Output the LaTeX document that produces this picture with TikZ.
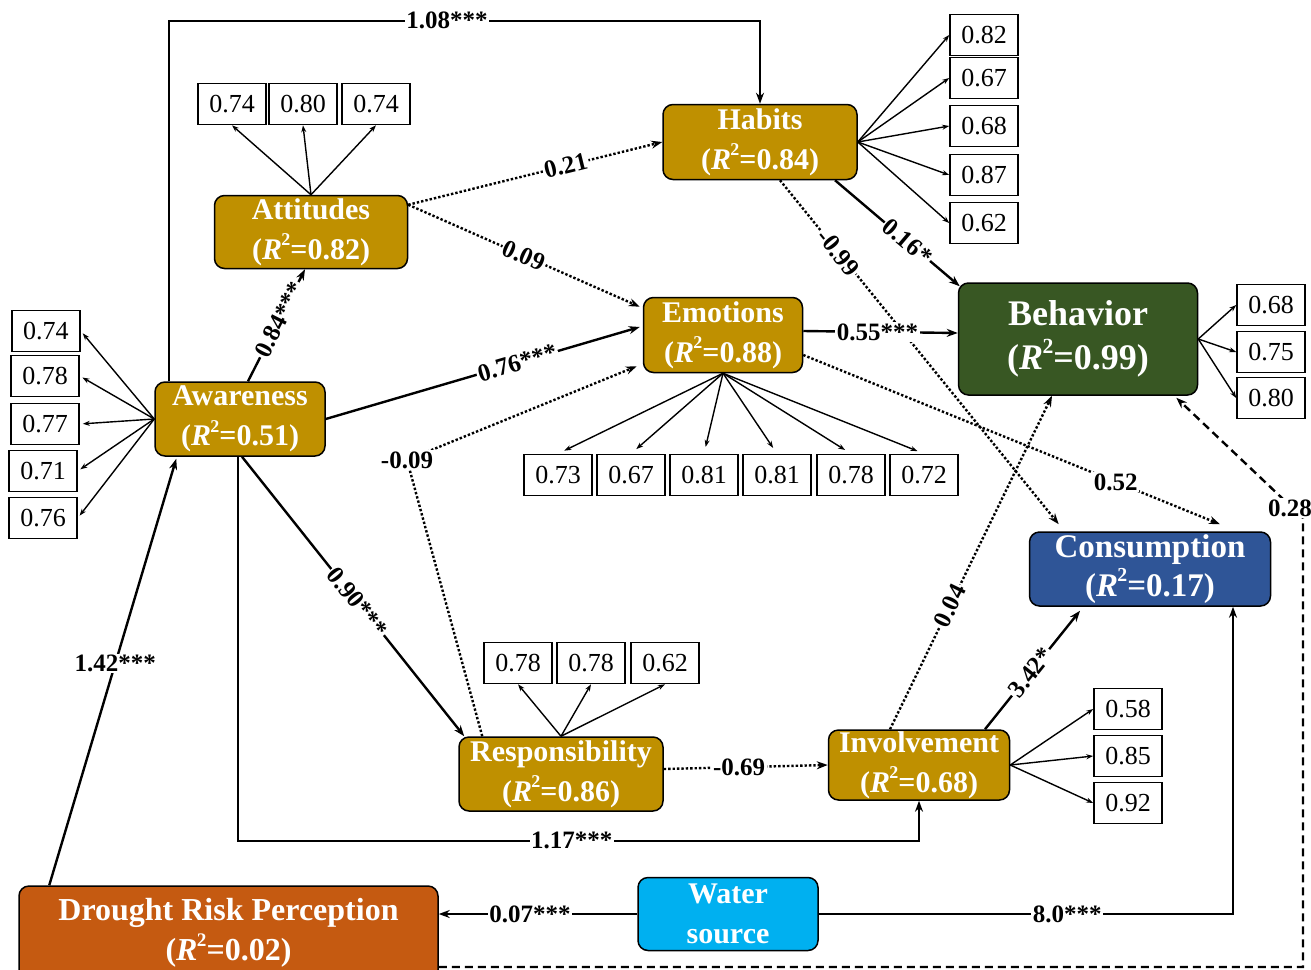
\documentclass[tikz,border=0pt]{standalone}
\usepackage{fontspec}
\setmainfont{Liberation Serif}
\usetikzlibrary{arrows.meta,calc}
\definecolor{gold}{HTML}{BF9000}
\definecolor{darkgreen}{HTML}{385723}
\definecolor{navy}{HTML}{2F5597}
\definecolor{sky}{HTML}{00B0F0}
\definecolor{rust}{HTML}{C55A11}
% R-squared caption with a small, tight superscript
\newcommand{\rsq}[1]{(\textit{R}\kern-0.02em\raisebox{0.45em}{\scalebox{0.6}{2}}=#1)}
\begin{document}
\begin{tikzpicture}[x=1pt,y=-1pt,
  latent/.style={draw=black,line width=1.5pt,rounded corners=10pt,text=white,
    font=\bfseries\fontsize{30}{40}\selectfont,align=center,inner sep=0pt},
  ind/.style={draw=black,line width=1.6pt,fill=white,minimum width=68pt,
    minimum height=41pt,inner sep=0pt,font=\fontsize{26}{26}\selectfont},
  loadarrow/.style={-{Stealth[length=7pt,width=5pt]},line width=1.4pt},
  effect/.style={-{Stealth[length=11pt,width=8pt]},line width=2.4pt},
  dotline/.style={effect,dash pattern=on 2.4pt off 2pt},
  dashline/.style={effect,dash pattern=on 8pt off 5pt},
  lbl/.style={fill=white,inner sep=1.5pt,font=\bfseries\fontsize{25}{25}\selectfont},
]
\useasboundingbox (0,0) rectangle (1311,969);

% latent constructs
\node[latent,fill=gold,minimum width=194pt,minimum height=75pt] (hab) at (760,142) {Habits\\\rsq{0.84}};
\node[latent,fill=gold,minimum width=193pt,minimum height=73pt] (att) at (311,232) {Attitudes\\\rsq{0.82}};
\node[latent,fill=gold,minimum width=159pt,minimum height=75pt] (emo) at (723,335) {Emotions\\\rsq{0.88}};
\node[latent,fill=darkgreen,minimum width=239pt,minimum height=112pt,
  font=\bfseries\fontsize{36}{44}\selectfont] (beh) at (1078,339) {Behavior\\\rsq{0.99}};
\node[latent,fill=gold,minimum width=170pt,minimum height=74pt] (aw) at (240,419) {Awareness\\\rsq{0.51}};
\node[latent,fill=navy,minimum width=241pt,minimum height=74pt,
  font=\bfseries\fontsize{33}{39}\selectfont] (con) at (1150,569) {Consumption\\\rsq{0.17}};
\node[latent,fill=gold,minimum width=204pt,minimum height=74pt] (res) at (561,774) {Responsibility\\\rsq{0.86}};
\node[latent,fill=gold,minimum width=181pt,minimum height=70pt] (inv) at (919,765) {Involvement\\\rsq{0.68}};
\node[latent,fill=rust,minimum width=419pt,minimum height=94pt,
  font=\bfseries\fontsize{32}{40}\selectfont] (drp) at (228.5,933) {Drought Risk Perception\\\rsq{0.02}};
\node[latent,fill=sky,minimum width=180pt,minimum height=73pt] (ws) at (728,914) {Water\\source};

% indicator boxes and loadings
\foreach \n/\x/\v in {1/232/0.74,2/303/0.80,3/376/0.74}{
  \node[ind] (ia\n) at (\x,104) {\v};
  \draw[loadarrow] (att.north) -- (ia\n.south);}
\foreach \n/\y/\v in {1/35/0.82,2/78/0.67,3/126/0.68,4/175/0.87,5/223/0.62}{
  \node[ind] (ih\n) at (984,\y) {\v};
  \draw[loadarrow] (hab.east) -- (ih\n.west);}
\foreach \n/\y/\v in {1/305/0.68,2/352/0.75,3/398/0.80}{
  \node[ind] (ib\n) at (1271,\y) {\v};
  \draw[loadarrow] (beh.east) -- (ib\n.west);}
\foreach \n/\x/\y/\v in {1/46/331/0.74,2/45/376/0.78,3/45/424/0.77,4/43/471/0.71,5/43/518/0.76}{
  \node[ind] (iw\n) at (\x,\y) {\v};
  \draw[loadarrow,shorten >=3pt] (aw.west) -- (iw\n.east);}
\foreach \n/\x/\v in {1/558/0.73,2/631/0.67,3/704/0.81,4/777/0.81,5/851/0.78,6/924/0.72}{
  \node[ind] (ie\n) at (\x,475) {\v};
  \draw[loadarrow,shorten >=7pt] (emo.south) -- (ie\n.north);}
\foreach \n/\x/\v in {1/518/0.78,2/591/0.78,3/665/0.62}{
  \node[ind] (ir\n) at (\x,663) {\v};
  \draw[loadarrow] (res.north) -- (ir\n.south);}
\foreach \n/\y/\v in {1/709/0.58,2/756/0.85,3/803/0.92}{
  \node[ind] (ii\n) at (1128,\y) {\v};
  \draw[loadarrow] (inv.east) -- (ii\n.west);}

% structural paths
\draw[effect] ($(aw.north west)+(15,0)$) |- node[lbl,pos=0.735]{1.08***} ($(hab.north)+(0,-83)$) -- (hab.north);
\draw[dotline] ($(att.north east)+(0,10)$) -- node[lbl,sloped,pos=0.62]{0.21} (hab.west);
\draw[dotline] ($(att.north east)+(0,10)$) -- node[lbl,sloped,pos=0.5]{0.09} ($(emo.north west)+(-3,10)$);
\draw[effect] ($(aw.north)+(8,0)$) -- node[lbl,sloped,pos=0.55]{0.84***} ($(att.south)+(-6,0)$);
\draw[effect] (aw.east) -- node[lbl,sloped,pos=0.61]{0.76***} ($(emo.west)+(-3,-8)$);
\coordinate (c009) at (407,460);
\draw[dotline] ($(res.north west)+(24,0)$) -- (c009) node[lbl]{-0.09} -- ($(emo.south west)+(-6,-7)$);
\draw[effect] ($(aw.south)+(2,0)$) -- node[lbl,sloped,pos=0.52]{0.90***} ($(res.north west)+(6,0)$);
\draw[effect] ($(aw.south)+(-2,0)$) |- node[lbl,pos=0.745]{1.17***} ($(inv.south)+(0,40)$) -- (inv.south);
\draw[dotline] ($(res.east)+(0,-5)$) -- node[lbl,pos=0.46]{-0.69} (inv.west);
\draw[dotline] ($(inv.north)+(-29,0)$) -- node[lbl,sloped,pos=0.37]{0.04} ($(beh.south)+(-26,0)$);
\draw[effect] ($(inv.north)+(66,0)$) -- node[lbl,sloped,pos=0.48]{3.42*} ($(con.south)+(-70,4)$);
\draw[effect] ($(hab.south)+(75,0)$) -- node[lbl,sloped,pos=0.58]{0.16*} ($(beh.north west)+(2,4)$);
\draw[dotline] ($(hab.south)+(20,0)$) -- node[lbl,sloped,pos=0.21]{-0.99} ($(con.north west)+(30,-7)$);
\draw[effect] ($(emo.east)+(0,-4)$) -- node[lbl,pos=0.48]{0.55***} ($(beh.west)+(0,-6)$);
\draw[dotline] ($(emo.east)+(0,20)$) -- node[lbl,pos=0.75]{0.52} ($(con.north)+(70,-7)$);
\draw[effect] ($(drp.north west)+(31,0)$) -- node[lbl,pos=0.52]{1.42***} ($(aw.south west)+(22,2)$);
\draw[effect] (ws.west) -- node[lbl,pos=0.54]{0.07***} (drp.east |- ws.west);
\draw[effect] (ws.east) -| node[lbl,pos=0.3]{8.0***} ($(con.south)+(83,0)$);
\coordinate (c028) at (1303,518);
\draw[dashline] ($(drp.east)+(0,34)$) -| (c028) node[lbl,xshift=-13pt,yshift=10pt]{0.28} -- ($(beh.south east)+(-22,2)$);
\end{tikzpicture}
\end{document}
